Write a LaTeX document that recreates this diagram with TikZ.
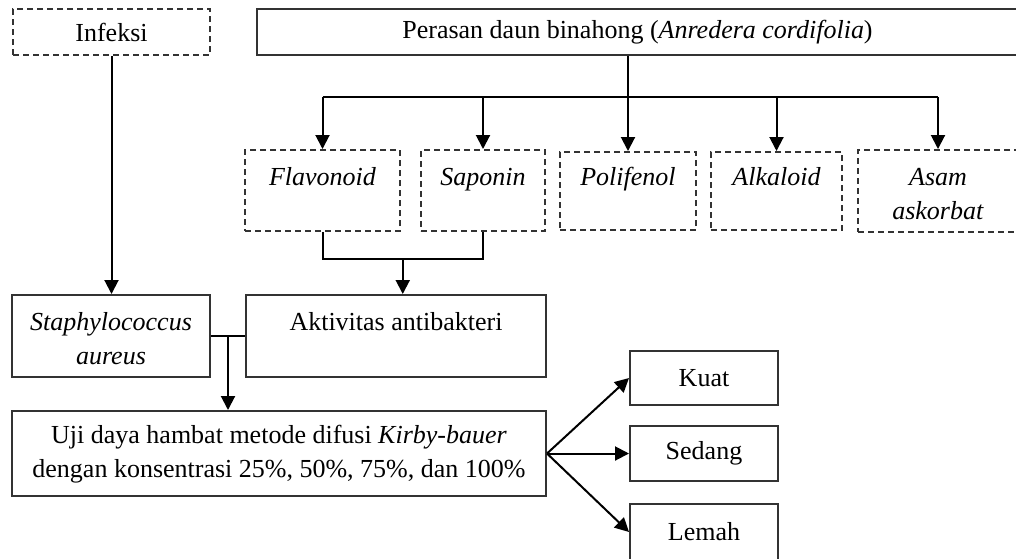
\documentclass[tikz,border=0pt]{standalone}
\usepackage{fontspec}
\setmainfont{Liberation Serif}
\usetikzlibrary{arrows.meta,calc}
\newcommand\topstrutx{\rule{0pt}{16.7pt}}
\begin{document}
\begin{tikzpicture}[x=0.5pt,y=-0.5pt,
  font=\fontsize{13}{17}\selectfont,
  box/.style={draw=black!80,line width=1pt,inner sep=0pt,align=center},
  dbox/.style={box,dash pattern=on 3pt off 2pt},
  conn/.style={draw=black,line width=1pt},
  arr/.style={conn,-{Triangle[length=7pt,width=7pt]}}]
\useasboundingbox (0,0) rectangle (1016,558);
\fill[white] (0,0) rectangle (1016,558);
% top row
\node[dbox,minimum width=98.5pt,minimum height=23pt] (inf) at (111.5,32) {Infeksi};
\node[box,minimum width=380.5pt,minimum height=23pt] (per) at (637.5,32) {Perasan daun binahong (\textit{Anredera cordifolia})};
% compounds
\node[dbox,minimum width=77.5pt,minimum height=40.5pt] (fla) at (322.5,190.5) {\topstrutx\textit{Flavonoid}\\\strut};
\node[dbox,minimum width=62pt,minimum height=40.5pt] (sap) at (483,190.5) {\topstrutx\textit{Saponin}\\\strut};
\node[dbox,minimum width=68pt,minimum height=39pt] (pol) at (628,191) {\topstrutx\textit{Polifenol}\\\strut};
\node[dbox,minimum width=65.5pt,minimum height=39pt] (alk) at (776.5,191) {\topstrutx\textit{Alkaloid}\\\strut};
\node[dbox,minimum width=80pt,minimum height=41pt] (asa) at (938,191) {\topstrutx\textit{Asam}\\\strut\textit{askorbat}};
% middle
\node[box,minimum width=99pt,minimum height=41pt] (sta) at (111,336) {\topstrutx\textit{Staphylococcus}\\\strut\textit{aureus}};
\node[box,minimum width=150pt,minimum height=41pt] (akt) at (396,336) {\topstrutx Aktivitas antibakteri\\\strut};
\node[box,minimum width=267pt,minimum height=42.5pt] (uji) at (279,453.5) {\strut Uji daya hambat metode difusi \textit{Kirby-bauer}\\\strut dengan konsentrasi 25\%, 50\%, 75\%, dan 100\%};
% results
\node[box,minimum width=74pt,minimum height=27pt] (kua) at (704,378) {Kuat};
\node[box,minimum width=74pt,minimum height=27.5pt] (sed) at (704,453.5) {Sedang};
\node[box,minimum width=74pt,minimum height=28pt] (lem) at (704,532) {Lemah};
% connectors
\draw[arr] (inf.south) -- (inf.south |- sta.north);
\draw[arr] (per.south -| pol.north) -- (pol.north);
\coordinate (bl) at ($(fla.north)+(0,-52)$);
\draw[conn] (bl) -- (bl -| asa.north);
\draw[arr] (bl) -- (fla.north);
\draw[arr] (bl -| sap.north) -- (sap.north);
\draw[arr] (bl -| alk.north) -- (alk.north);
\draw[arr] (bl -| asa.north) -- (asa.north);
\coordinate (bb) at ($(fla.south)+(0,27)$);
\draw[conn] (fla.south) -- (bb) -| (sap.south);
\coordinate (bm) at ($(bb)!0.5!(bb -| sap.south)$);
\draw[arr] (bm) -- (bm |- akt.north);
\draw[conn] (sta.east) -- (akt.west);
\coordinate (jm) at ($(sta.east)!0.5!(akt.west)$);
\draw[arr] (jm) -- (jm |- uji.north);
\draw[arr] (uji.east) -- (kua.west);
\draw[arr] (uji.east) -- (sed.west);
\draw[arr] (uji.east) -- (lem.west);
\end{tikzpicture}
\end{document}
